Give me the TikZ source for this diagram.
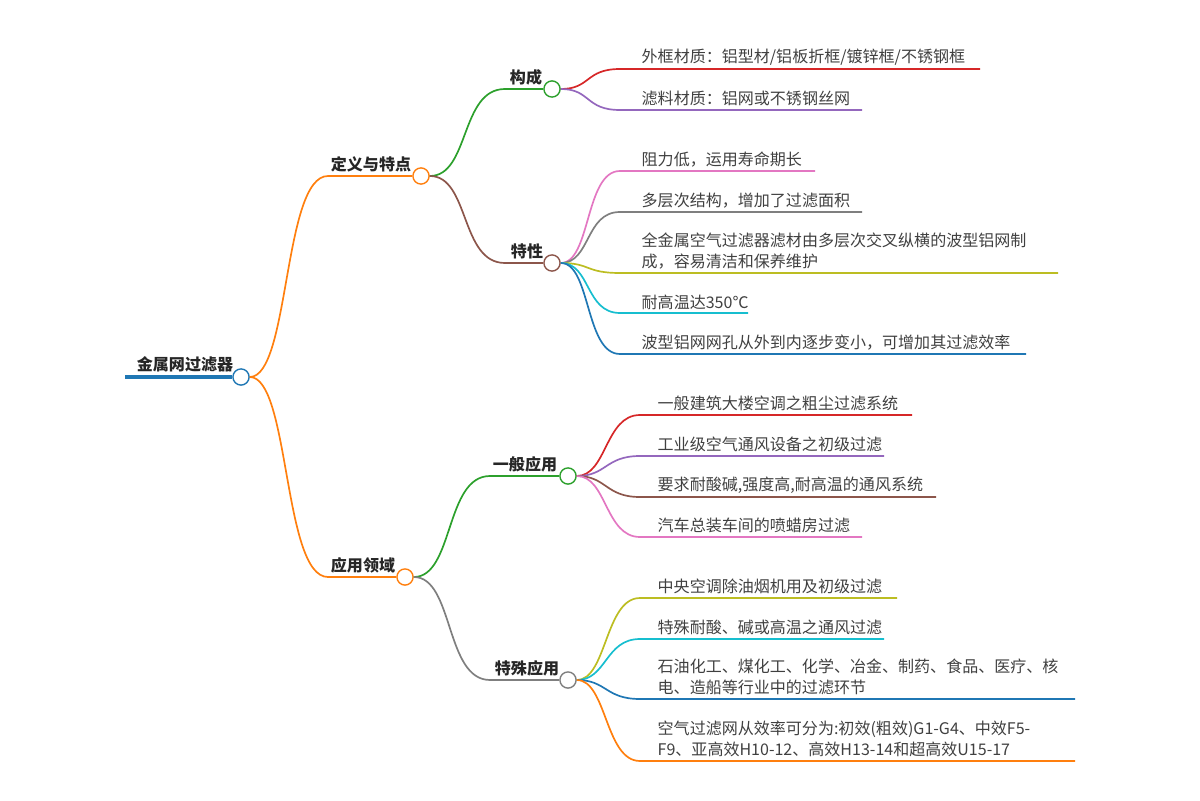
\documentclass[tikz,border=0pt]{standalone}
\usepackage{fontspec}
\setmainfont{Noto Sans CJK SC}
\usetikzlibrary{calc}
\definecolor{cor}{HTML}{FF7F0E}\definecolor{cgr}{HTML}{2CA02C}\definecolor{cbr}{HTML}{8C564B}
\definecolor{cgy}{HTML}{7F7F7F}\definecolor{crd}{HTML}{D62728}\definecolor{cpu}{HTML}{9467BD}
\definecolor{cpk}{HTML}{E377C2}\definecolor{col}{HTML}{BCBD22}\definecolor{ccy}{HTML}{17BECF}
\definecolor{cbl}{HTML}{1F77B4}
\tikzset{dot/.style={circle,draw=#1,fill=white,line width=1pt,inner sep=0pt,minimum size=11.5pt},
 lbl/.style={font=\bfseries\fontsize{11.4}{13}\selectfont,anchor=south,inner sep=1pt,text=black!85},
 ltxt/.style={font=\fontsize{11.4}{15}\selectfont,anchor=south west,align=left,inner sep=1pt,text=black!75},
 edge/.style={line width=1.2pt,#1}}
\newcommand{\myleaf}[6]{%
 \coordinate (#1s#6) at (620,#3);
 \coordinate (#1e#6) at (#4,#3);
 \node[ltxt] (#1t#6) at ($(#1s#6)+(20,-2)$) {#5};
 \draw[edge=#2] (#1.east) .. controls ($(#1.east)+(30,0)$) and ($(#1s#6)+(-35,0)$) .. (#1s#6) -- (#1e#6);}
\newcommand{\myleafb}[6]{%
 \coordinate (#1s#6) at (640,#3);
 \coordinate (#1e#6) at (#4,#3);
 \node[ltxt] (#1t#6) at ($(#1s#6)+(16,-2)$) {#5};
 \draw[edge=#2] (#1.east) .. controls ($(#1.east)+(30,0)$) and ($(#1s#6)+(-35,0)$) .. (#1s#6) -- (#1e#6);}
\begin{document}
\begin{tikzpicture}[x=0.025cm,y=-0.025cm]
\useasboundingbox (0,0) rectangle (1200,800);
\coordinate (rs) at (125,377);
\node[dot=cbl] (root) at (241,377) {};
\draw[line width=2.5pt,cbl] (rs) -- (root.west);
\node[lbl] (roott) at (185,374) {金属网过滤器};
\node[dot=cor] (d1) at (421,176) {};
\coordinate (d1s) at (328,176);
\node[lbl] (d1t) at (371,174) {定义与特点};
\node[dot=cor] (d2) at (405,577) {};
\coordinate (d2s) at (328,577);
\node[lbl] (d2t) at (363,575) {应用领域};
\foreach \n in {d1,d2}{
 \draw[edge=cor] (root.east) .. controls ($(root.east)+(40,0)$) and ($(\n s)+(-45,0)$) .. (\n s) -- (\n.west);}
\node[dot=cgr] (g1) at (552,89) {};\coordinate (g1s) at (505,89);
\node[lbl] (g1t) at (526,87) {构成};
\node[dot=cbr] (g2) at (552,263) {};\coordinate (g2s) at (505,263);
\node[lbl] (g2t) at (527,261) {特性};
\node[dot=cgr] (g3) at (568,476) {};\coordinate (g3s) at (490,476);
\node[lbl] (g3t) at (525,474) {一般应用};
\node[dot=cgy] (g4) at (568,680) {};\coordinate (g4s) at (490,680);
\node[lbl] (g4t) at (527,678) {特殊应用};
\draw[edge=cgr] (d1.east) .. controls ($(d1.east)+(40,0)$) and ($(g1s)+(-45,0)$) .. (g1s) -- (g1.west);
\draw[edge=cbr] (d1.east) .. controls ($(d1.east)+(40,0)$) and ($(g2s)+(-45,0)$) .. (g2s) -- (g2.west);
\draw[edge=cgr] (d2.east) .. controls ($(d2.east)+(40,0)$) and ($(g3s)+(-45,0)$) .. (g3s) -- (g3.west);
\draw[edge=cgy] (d2.east) .. controls ($(d2.east)+(40,0)$) and ($(g4s)+(-45,0)$) .. (g4s) -- (g4.west);
\myleaf{g1}{crd}{69}{980}{外框材质：铝型材/铝板折框/镀锌框/不锈钢框}{a}
\myleaf{g1}{cpu}{110}{862}{滤料材质：铝网或不锈钢丝网}{b}
\myleaf{g2}{cpk}{171}{815}{阻力低，运用寿命期长}{a}
\myleaf{g2}{cgy}{212}{862}{多层次结构，增加了过滤面积}{b}
\myleaf{g2}{col}{273}{1058}{全金属空气过滤器滤材由多层次交叉纵横的波型铝网制\\成，容易清洁和保养维护}{c}
\myleaf{g2}{ccy}{313}{748}{耐高温达350℃}{d}
\myleaf{g2}{cbl}{354}{1026}{波型铝网网孔从外到内逐步变小，可增加其过滤效率}{e}
\myleafb{g3}{crd}{415}{912}{一般建筑大楼空调之粗尘过滤系统}{a}
\myleafb{g3}{cpu}{456}{884}{工业级空气通风设备之初级过滤}{b}
\myleafb{g3}{cbr}{497}{936}{要求耐酸碱,强度高,耐高温的通风系统}{c}
\myleafb{g3}{cpk}{537}{862}{汽车总装车间的喷蜡房过滤}{d}
\myleafb{g4}{col}{598}{897}{中央空调除油烟机用及初级过滤}{a}
\myleafb{g4}{ccy}{639}{884}{特殊耐酸、碱或高温之通风过滤}{b}
\myleafb{g4}{cbl}{699}{1075}{石油化工、煤化工、化学、冶金、制药、食品、医疗、核\\电、造船等行业中的过滤环节}{c}
\myleafb{g4}{cor}{761}{1075}{空气过滤网从效率可分为:初效(粗效)G1-G4、中效F5-\\F9、亚高效H10-12、高效H13-14和超高效U15-17}{d}
\end{tikzpicture}
\end{document}
